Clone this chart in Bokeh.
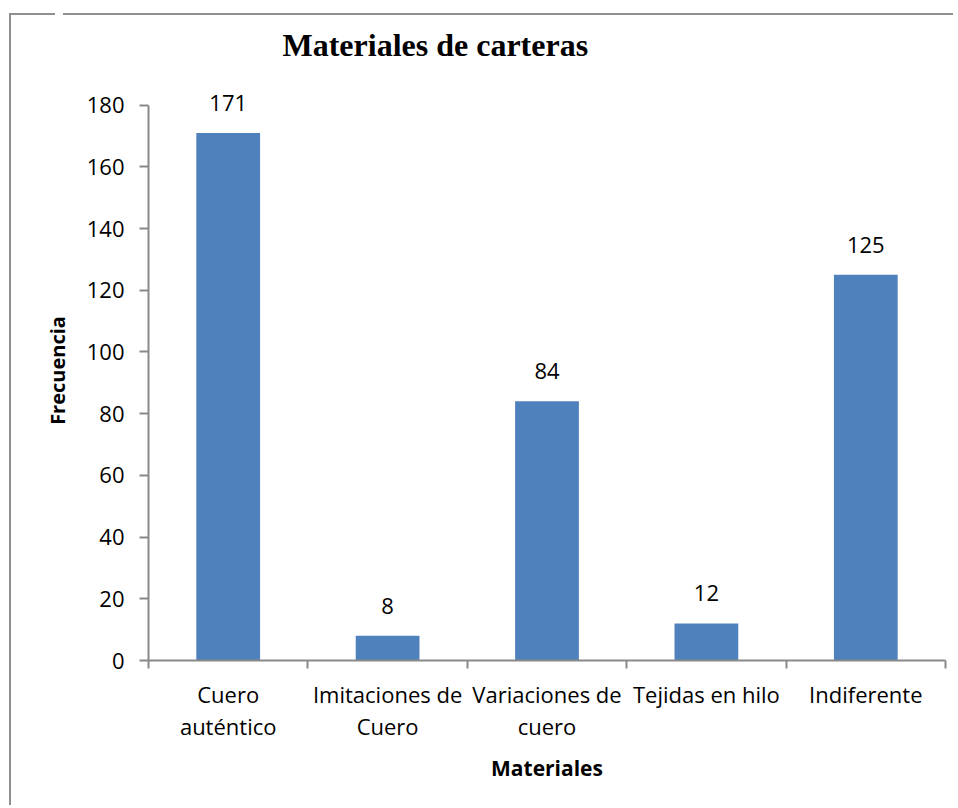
from bokeh.plotting import figure
from bokeh.models import Range1d, FixedTicker, LinearAxis, ColumnDataSource, LabelSet
from bokeh.core.properties import value
from bokeh.embed import file_html
from bokeh.resources import INLINE

# ---- data ----
categories = ["Cuero\nauténtico", "Imitaciones de\nCuero", "Variaciones de\ncuero",
              "Tejidas en hilo", "Indiferente"]
values = [171, 8, 84, 12, 125]
y_ticks = [0, 20, 40, 60, 80, 100, 120, 140, 160, 180]
title_text = "Materiales de carteras"
x_title = "Materiales"
y_title = "Frecuencia"

n = len(categories)
centers = [i + 0.5 for i in range(n)]
bounds = [float(i) for i in range(n + 1)]

src = ColumnDataSource(dict(x=centers, v=values, lbl=[str(v) for v in values]))

AX = "#898989"
FONT = "Open Sans"
FRAME_LINE = "#8f8f8f"

p = figure(width=944, height=798,
           x_range=Range1d(0, n), y_range=Range1d(0, 188),
           x_axis_type=None, y_axis_type=None,
           output_backend="svg", toolbar_location=None,
           min_border_left=139, min_border_right=8,
           min_border_top=73, min_border_bottom=145)
p.outline_line_color = None
p.background_fill_color = "white"
p.border_fill_color = None
grad = f"linear-gradient({FRAME_LINE}, {FRAME_LINE})"
p.styles = {
    "margin-top": "7px", "margin-left": "9px",
    "background-color": "white",
    "background-image": f"{grad}, {grad}, {grad}",
    "background-size": "46px 2px, 100% 2px, 2px 100%",
    "background-position": "0px 6px, 54px 6px, 0px 6px",
    "background-repeat": "no-repeat",
}

p.title.text = title_text
p.title.text_font = "Liberation Serif"
p.title.text_font_size = "32px"
p.title.text_font_style = "bold"
p.title.text_color = "black"
p.title.align = "left"
p.title.vertical_align = "top"
p.title.offset = 134
p.title.standoff = 32

p.vbar(x="x", top="v", width=0.4, source=src, fill_color="#4F81BD", line_color=None)

p.add_layout(LabelSet(x="x", y="v", text="lbl", source=src, text_align="center",
                      text_baseline="alphabetic", y_offset=22,
                      text_font=value(FONT), text_font_size="22px", text_color="black"))

yaxis = LinearAxis(ticker=FixedTicker(ticks=y_ticks), axis_label=y_title, bounds=(0, 180))
yaxis.axis_line_color = AX
yaxis.axis_line_width = 2
yaxis.major_tick_line_color = AX
yaxis.major_tick_line_width = 2
yaxis.major_tick_out = 9
yaxis.major_tick_in = 0
yaxis.minor_tick_line_color = None
yaxis.major_label_standoff = 15
yaxis.major_label_text_font = FONT
yaxis.major_label_text_font_size = "22px"
yaxis.major_label_text_color = "black"
yaxis.axis_label_text_font = FONT
yaxis.axis_label_text_font_size = "20px"
yaxis.axis_label_text_font_style = "bold"
yaxis.axis_label_text_color = "black"
yaxis.axis_label_standoff = 13
p.add_layout(yaxis, "left")

xaxis = LinearAxis(ticker=FixedTicker(ticks=centers, minor_ticks=bounds), axis_label=x_title)
xaxis.major_label_overrides = {c: lab for c, lab in zip(centers, categories)}
xaxis.axis_line_color = AX
xaxis.axis_line_width = 2
xaxis.major_tick_line_color = None
xaxis.major_tick_out = 0
xaxis.major_tick_in = 0
xaxis.minor_tick_line_color = AX
xaxis.minor_tick_line_width = 2
xaxis.minor_tick_out = 8
xaxis.minor_tick_in = 0
xaxis.major_label_standoff = 10
xaxis.major_label_text_font = FONT
xaxis.major_label_text_font_size = "22px"
xaxis.major_label_text_line_height = 1.07
xaxis.major_label_text_color = "black"
xaxis.axis_label_text_font = FONT
xaxis.axis_label_text_font_size = "21px"
xaxis.axis_label_text_font_style = "bold"
xaxis.axis_label_text_color = "black"
xaxis.axis_label_standoff = 10
p.add_layout(xaxis, "below")

open("out.html", "w").write(file_html(p, INLINE))
